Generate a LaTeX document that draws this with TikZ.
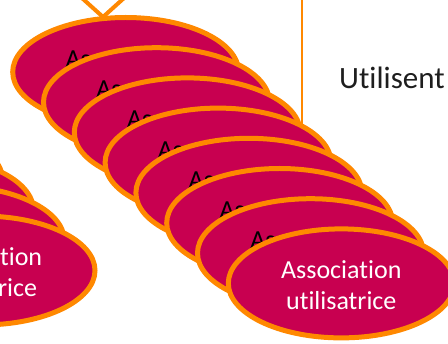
\documentclass[tikz,border=0pt]{standalone}
\usepackage{fontspec}
\setmainfont{Carlito}[Ligatures={NoCommon}]
\usetikzlibrary{shapes.geometric}
\definecolor{assocfill}{RGB}{200,0,80}
\definecolor{assocline}{RGB}{255,136,0}
\definecolor{txtdark}{RGB}{30,30,30}
\tikzset{
  assoc/.style={ellipse, draw=assocline, fill=assocfill, line width=5pt,
    minimum width=226pt, minimum height=109pt, inner sep=0pt, align=center,
    font=\fontsize{26}{31}\selectfont, text=black},
  frontassoc/.style={text=white},
  link/.style={draw=assocline, line width=#1},
}
\newcommand{\assoctext}{\rule{0pt}{22pt}Association\\utilisatrice}
\begin{document}
\begin{tikzpicture}[x=1pt,y=-1pt]
  \useasboundingbox (0,0) rectangle (448,344);
  \clip (0,0) rectangle (448,344);
  % connectors (behind the ellipses)
  \coordinate (vl) at (79.7,-4);
  \coordinate (vapex) at (103,17);
  \coordinate (vr) at (126.3,-4);
  \draw[link=4pt, line join=miter] (vl) -- (vapex) -- (vr);
  \coordinate (vtop) at (302,-4);
  \coordinate (vbot) at (302,160);
  \draw[link=2pt] (vtop) -- (vbot);
  % left stack, back to front
  \node[assoc] (l3) at (-110.4,179.9) {};
  \node[assoc] (l2) at (-79.6,210.1) {};
  \node[assoc] (l1) at (-48.8,240.3) {};
  \node[assoc, frontassoc] (l0) at (-18,270.5) {\assoctext};
  % main stack, back to front
  \foreach \i in {0,...,6}
    \node[assoc] (e\i) at ({125.7+30.8*\i},{72+30.2*\i}) {\assoctext};
  \node[assoc, frontassoc] (e7) at (341.3,283.4) {\assoctext};
  % label
  \node[anchor=base west, inner sep=0pt, font=\fontsize{31}{37}\selectfont,
    text=txtdark] (util) at (339,89) {Utilisent};
\end{tikzpicture}
\end{document}
